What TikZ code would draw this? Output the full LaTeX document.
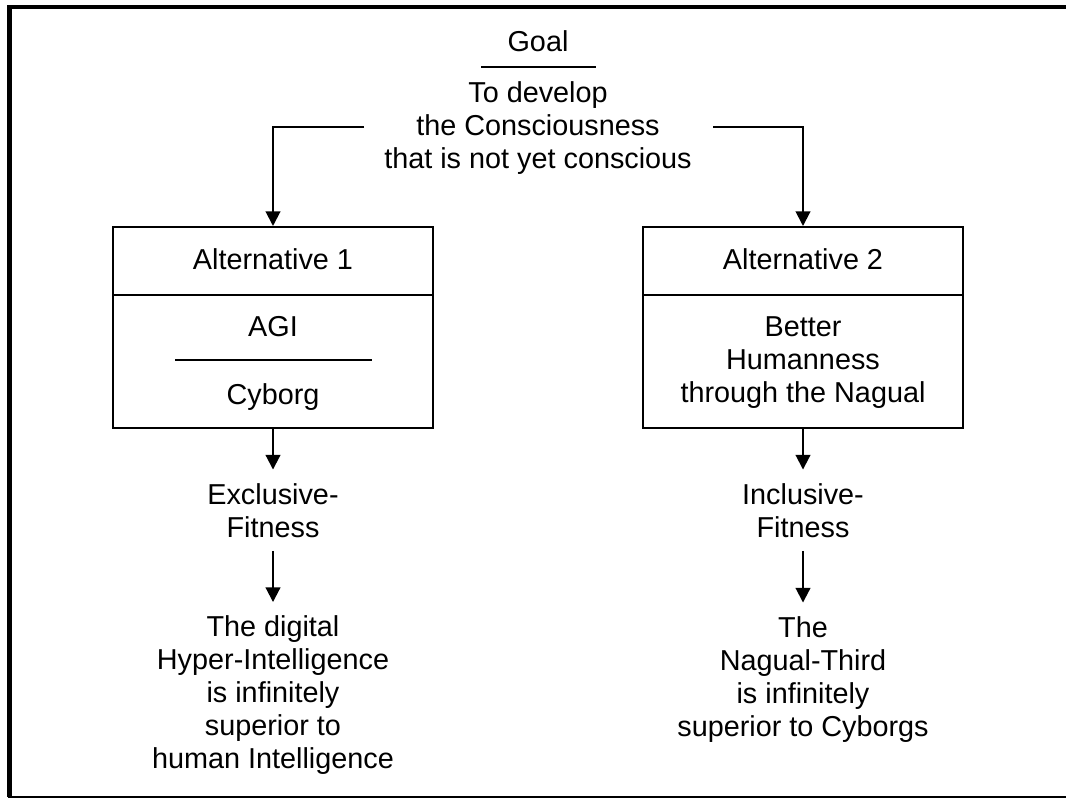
\documentclass[tikz,border=0pt]{standalone}
\usepackage{fontspec}
\setmainfont{Liberation Sans}
\usetikzlibrary{arrows.meta}
\begin{document}
\begin{tikzpicture}[x=0.75pt,y=-0.75pt,
  txt/.style={font=\fontsize{21.6}{24.75}\selectfont, align=center, inner xsep=0pt, inner ysep=10pt, anchor=base},
  cell/.style={draw, line width=1.5pt, minimum width=240pt, inner sep=0pt},
  arr/.style={line width=1.5pt, -{Triangle[width=11pt,length=11pt]}},
  rule/.style={line width=1.2pt}]
\useasboundingbox (0,0) rectangle (1066,799);
% frame
\draw[line width=3.2pt] (9.5,797) -- (9.5,7) -- (1066,7);
\draw[line width=1.2pt] (8,797) -- (1066,797);
% goal
\node[txt] (goal) at (538,52) {Goal};
\draw[rule] (481,67) -- (596,67);
\node[txt] (desc) at (538,168) {To develop\\the Consciousness\\that is not yet conscious};
\coordinate (cl) at (364,127);
\coordinate (cr) at (713,127);
% boxes
\node[cell, minimum height=51pt] (a1top) at (273,261) {};
\node[cell, minimum height=99.75pt] (a1bot) at (273,361.5) {};
\node[cell, minimum height=51pt] (a2top) at (803,261) {};
\node[cell, minimum height=99.75pt] (a2bot) at (803,361.5) {};
\node[txt] (alt1) at (273,269) {Alternative 1};
\node[txt] (alt2) at (803,269) {Alternative 2};
\node[txt] (agi) at (273,336) {AGI};
\draw[rule] (175,360) -- (372,360);
\node[txt] (cyb) at (273,404) {Cyborg};
\node[txt] (better) at (803,402) {Better\\Humanness\\through the Nagual};
% connectors
\draw[arr] (cl) -| (a1top.north);
\draw[arr] (cr) -| (a2top.north);
\node[txt] (exf) at (273,537) {Exclusive-\\Fitness};
\node[txt] (inf) at (803,537) {Inclusive-\\Fitness};
\node[txt] (dig) at (273,768.5) {The digital\\Hyper-Intelligence\\is infinitely\\superior to\\human Intelligence};
\node[txt] (nag) at (803,736) {The\\Nagual-Third\\is infinitely\\superior to Cyborgs};
\draw[arr] (a1bot.south) -- (exf.north);
\draw[arr] (a2bot.south) -- (inf.north);
\draw[arr] (exf.south) -- (dig.north);
\draw[arr] (inf.south) -- (nag.north);
\end{tikzpicture}
\end{document}
